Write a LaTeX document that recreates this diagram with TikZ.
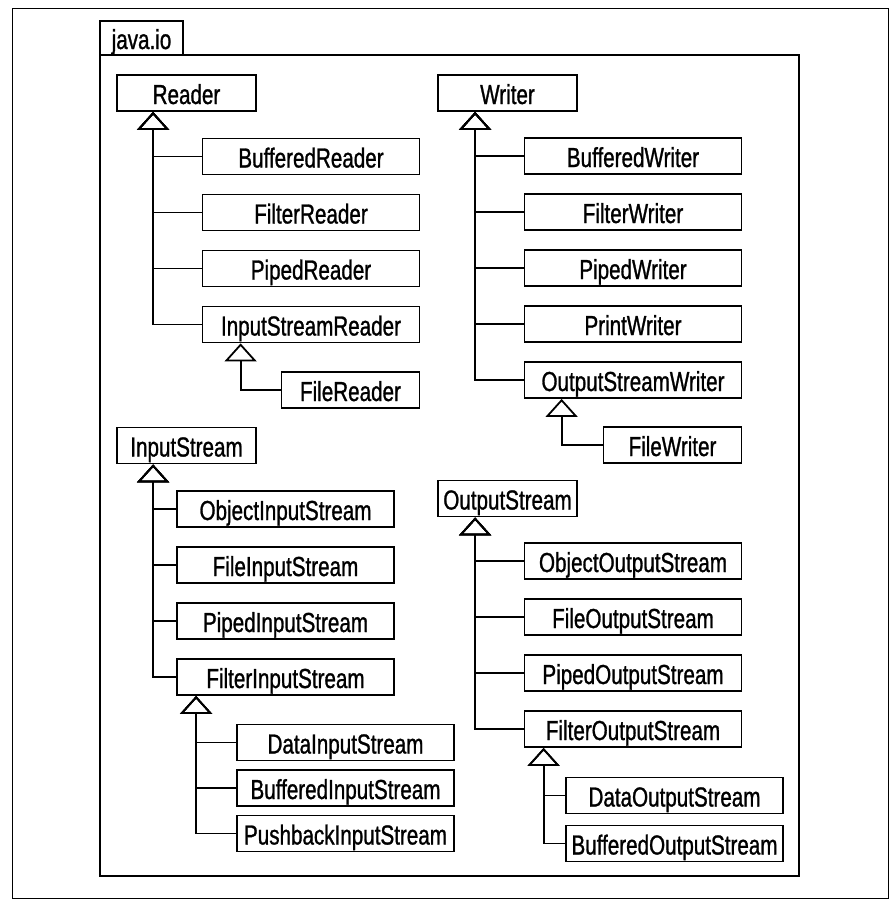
\documentclass[tikz,border=0pt]{standalone}
\usepackage{fontspec}
\newfontfamily\classfont[FakeStretch=0.75, FakeBold=1]{Liberation Sans}
\usetikzlibrary{arrows.meta,positioning}
\tikzset{
    cls/.style={rectangle, draw, line width=1.8pt, minimum height=36pt, inner sep=0pt, text height=22pt, text depth=0pt, font=\classfont\fontsize{27.5}{30}\selectfont},
    root/.style={cls, minimum width=139pt},
    sub/.style={cls, minimum width=217pt},
    leaf/.style={cls, minimum width=138pt},
    tab/.style={cls, minimum width=83pt, minimum height=34pt},
    inherit/.style={draw, line width=1.8pt, -{Triangle[open, length=18pt, width=32pt]}},
    frame/.style={draw, line width=0.8pt},
    package/.style={draw, line width=1.8pt}
}
\begin{document}
\begin{tikzpicture}[x=1pt, y=-1pt, node distance=56pt]
    \useasboundingbox (0,0) rectangle (894,906);
    \draw [frame] (12,8) rectangle (888,898);
    \draw [package] (100,55) rectangle (799,876);
    \node [tab] (pkgtab) at (141.5,38) {java.io};

    % readers
    \node [root] (reader) at (186.5,93) {Reader};
    \node [sub] (bufferedreader) at (311,156.5) {BufferedReader};
    \node [sub, below of=bufferedreader] (filterreader) {FilterReader};
    \node [sub, below of=filterreader] (pipedreader) {PipedReader};
    \node [sub, below of=pipedreader] (inputstreamreader) {InputStreamReader};
    \node [leaf] (filereader) at (350.5,390) {FileReader};

    % writers
    \node [root] (writer) at (507.5,93) {Writer};
    \node [sub] (bufferedwriter) at (633,156) {BufferedWriter};
    \node [sub, below of=bufferedwriter] (filterwriter) {FilterWriter};
    \node [sub, below of=filterwriter] (pipedwriter) {PipedWriter};
    \node [sub, below of=pipedwriter] (printwriter) {PrintWriter};
    \node [sub, below of=printwriter] (outputstreamwriter) {OutputStreamWriter};
    \node [leaf] (filewriter) at (672.5,445) {FileWriter};

    % input streams
    \node [root] (inputstream) at (186.5,445.5) {InputStream};
    \node [sub] (objectinputstream) at (285.5,509) {ObjectInputStream};
    \node [sub, below of=objectinputstream] (fileinputstream) {FileInputStream};
    \node [sub, below of=fileinputstream] (pipedinputstream) {PipedInputStream};
    \node [sub, below of=pipedinputstream] (filterinputstream) {FilterInputStream};
    \node [sub] (datainputstream) at (345.5,742.5) {DataInputStream};
    \node [sub, below of=datainputstream, node distance=45.5pt] (bufferedinputstream) {BufferedInputStream};
    \node [sub, below of=bufferedinputstream, node distance=45.5pt] (pushbackinputstream) {PushbackInputStream};

    % output streams
    \node [root] (outputstream) at (507.5,498.5) {OutputStream};
    \node [sub] (objectoutputstream) at (633,561) {ObjectOutputStream};
    \node [sub, below of=objectoutputstream] (fileoutputstream) {FileOutputStream};
    \node [sub, below of=fileoutputstream] (pipedoutputstream) {PipedOutputStream};
    \node [sub, below of=pipedoutputstream] (filteroutputstream) {FilterOutputStream};
    \node [sub] (dataoutputstream) at (674.5,795.5) {DataOutputStream};
    \node [sub, below of=dataoutputstream, node distance=48pt] (bufferedoutputstream) {BufferedOutputStream};

    % triangle tips under the parents
    \coordinate (readertip) at ([xshift=37pt]reader.south west);
    \coordinate (isrtip) at ([xshift=39pt]inputstreamreader.south west);
    \coordinate (writertip) at ([xshift=38pt]writer.south west);
    \coordinate (oswtip) at ([xshift=38pt]outputstreamwriter.south west);
    \coordinate (instip) at ([xshift=37pt]inputstream.south west);
    \coordinate (fistip) at ([xshift=20pt]filterinputstream.south west);
    \coordinate (outstip) at ([xshift=38pt]outputstream.south west);
    \coordinate (fostip) at ([xshift=20pt]filteroutputstream.south west);

    \path [inherit] (inputstreamreader.west) -| (readertip);
    \path [inherit] (pipedreader.west) -| (readertip);
    \path [inherit] (filterreader.west) -| (readertip);
    \path [inherit] (bufferedreader.west) -| (readertip);
    \path [inherit] (filereader.west) -| (isrtip);

    \path [inherit] (outputstreamwriter.west) -| (writertip);
    \path [inherit] (printwriter.west) -| (writertip);
    \path [inherit] (pipedwriter.west) -| (writertip);
    \path [inherit] (filterwriter.west) -| (writertip);
    \path [inherit] (bufferedwriter.west) -| (writertip);
    \path [inherit] (filewriter.west) -| (oswtip);

    \path [inherit] (filterinputstream.west) -| (instip);
    \path [inherit] (pipedinputstream.west) -| (instip);
    \path [inherit] (fileinputstream.west) -| (instip);
    \path [inherit] (objectinputstream.west) -| (instip);
    \path [inherit] (pushbackinputstream.west) -| (fistip);
    \path [inherit] (bufferedinputstream.west) -| (fistip);
    \path [inherit] (datainputstream.west) -| (fistip);

    \path [inherit] (filteroutputstream.west) -| (outstip);
    \path [inherit] (pipedoutputstream.west) -| (outstip);
    \path [inherit] (fileoutputstream.west) -| (outstip);
    \path [inherit] (objectoutputstream.west) -| (outstip);
    \path [inherit] (bufferedoutputstream.west) -| (fostip);
    \path [inherit] (dataoutputstream.west) -| (fostip);
\end{tikzpicture}
\end{document}
